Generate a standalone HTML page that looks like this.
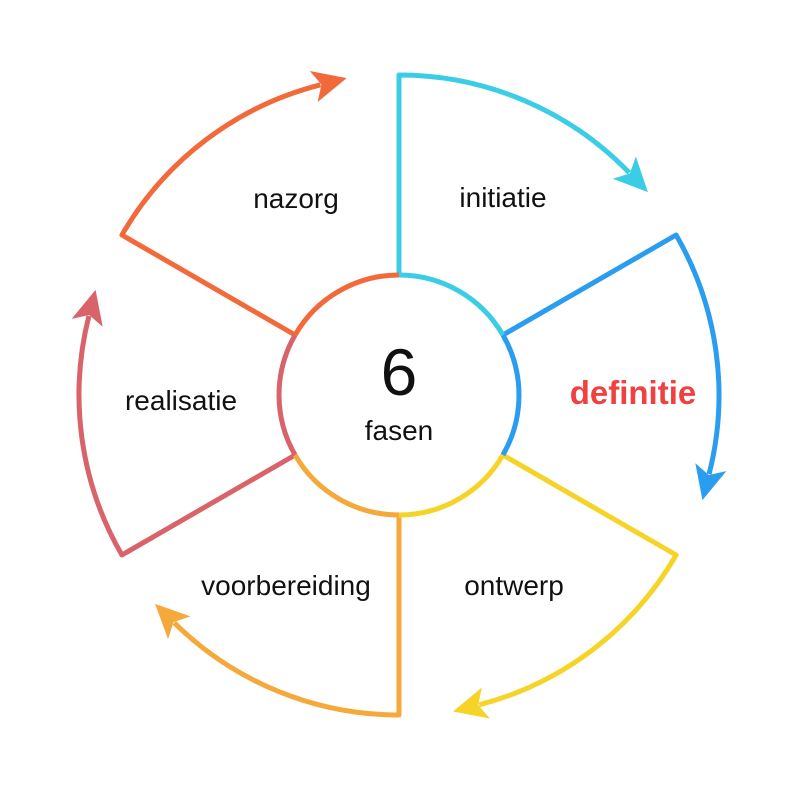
<!DOCTYPE html>
<html><head><meta charset="utf-8"><style>
html,body{margin:0;padding:0;background:#fff;}
svg{display:block;}
text{font-family:"Liberation Sans",sans-serif;fill:#111;}
</style></head><body>
<svg width="800" height="800" viewBox="0 0 800 800" xmlns="http://www.w3.org/2000/svg">
<defs>
<marker id="mc" markerUnits="userSpaceOnUse" markerWidth="50" markerHeight="50" refX="7" refY="0" viewBox="-5 -20 50 40" orient="auto"><path d="M0,-16 L34,0 L0,16 L8,0 z" fill="#3ccde6"/></marker>
<marker id="mb" markerUnits="userSpaceOnUse" markerWidth="50" markerHeight="50" refX="7" refY="0" viewBox="-5 -20 50 40" orient="auto"><path d="M0,-16 L34,0 L0,16 L8,0 z" fill="#2a9df0"/></marker>
<marker id="my" markerUnits="userSpaceOnUse" markerWidth="50" markerHeight="50" refX="7" refY="0" viewBox="-5 -20 50 40" orient="auto"><path d="M0,-16 L34,0 L0,16 L8,0 z" fill="#f5d327"/></marker>
<marker id="mo" markerUnits="userSpaceOnUse" markerWidth="50" markerHeight="50" refX="7" refY="0" viewBox="-5 -20 50 40" orient="auto"><path d="M0,-16 L34,0 L0,16 L8,0 z" fill="#f4a93a"/></marker>
<marker id="mr" markerUnits="userSpaceOnUse" markerWidth="50" markerHeight="50" refX="7" refY="0" viewBox="-5 -20 50 40" orient="auto"><path d="M0,-16 L34,0 L0,16 L8,0 z" fill="#d9636a"/></marker>
<marker id="mn" markerUnits="userSpaceOnUse" markerWidth="50" markerHeight="50" refX="7" refY="0" viewBox="-5 -20 50 40" orient="auto"><path d="M0,-16 L34,0 L0,16 L8,0 z" fill="#f26a3a"/></marker>
</defs>
<g fill="none" stroke-width="5" stroke-linejoin="round">
<path d="M399,275 L399,75 A320,320 0 0 1 629.2,172.7" stroke="#3ccde6" marker-end="url(#mc)"/>
<path d="M502.9,335 L676.1,235 A320,320 0 0 1 709.1,474" stroke="#2a9df0" marker-end="url(#mb)"/>
<path d="M502.9,455 L676.1,555 A320,320 0 0 1 479.1,704.8" stroke="#f5d327" marker-end="url(#my)"/>
<path d="M399,515 L399,715 A320,320 0 0 1 174.3,622.8" stroke="#f4a93a" marker-end="url(#mo)"/>
<path d="M295.1,455 L121.9,555 A320,320 0 0 1 88.9,316" stroke="#d9636a" marker-end="url(#mr)"/>
<path d="M295.1,335 L121.9,235 A320,320 0 0 1 320.5,84.8" stroke="#f26a3a" marker-end="url(#mn)"/>
<path d="M399,275 A120,120 0 0 1 502.9,335" stroke="#3ccde6"/>
<path d="M502.9,335 A120,120 0 0 1 502.9,455" stroke="#2a9df0"/>
<path d="M502.9,455 A120,120 0 0 1 399,515" stroke="#f5d327"/>
<path d="M399,515 A120,120 0 0 1 295.1,455" stroke="#f4a93a"/>
<path d="M295.1,455 A120,120 0 0 1 295.1,335" stroke="#d9636a"/>
<path d="M295.1,335 A120,120 0 0 1 399,275" stroke="#f26a3a"/>
</g>
<text x="399" y="395" font-size="66" text-anchor="middle">6</text>
<text x="399" y="440" font-size="28" text-anchor="middle">fasen</text>
<text x="296" y="208" font-size="28" text-anchor="middle">nazorg</text>
<text x="503" y="207" font-size="28" text-anchor="middle">initiatie</text>
<text x="633" y="404" font-size="33" font-weight="bold" text-anchor="middle" style="fill:#f04040">definitie</text>
<text x="181" y="410" font-size="28" text-anchor="middle">realisatie</text>
<text x="286" y="595" font-size="28" text-anchor="middle">voorbereiding</text>
<text x="514" y="595" font-size="28" text-anchor="middle">ontwerp</text>
</svg>
</body></html>
